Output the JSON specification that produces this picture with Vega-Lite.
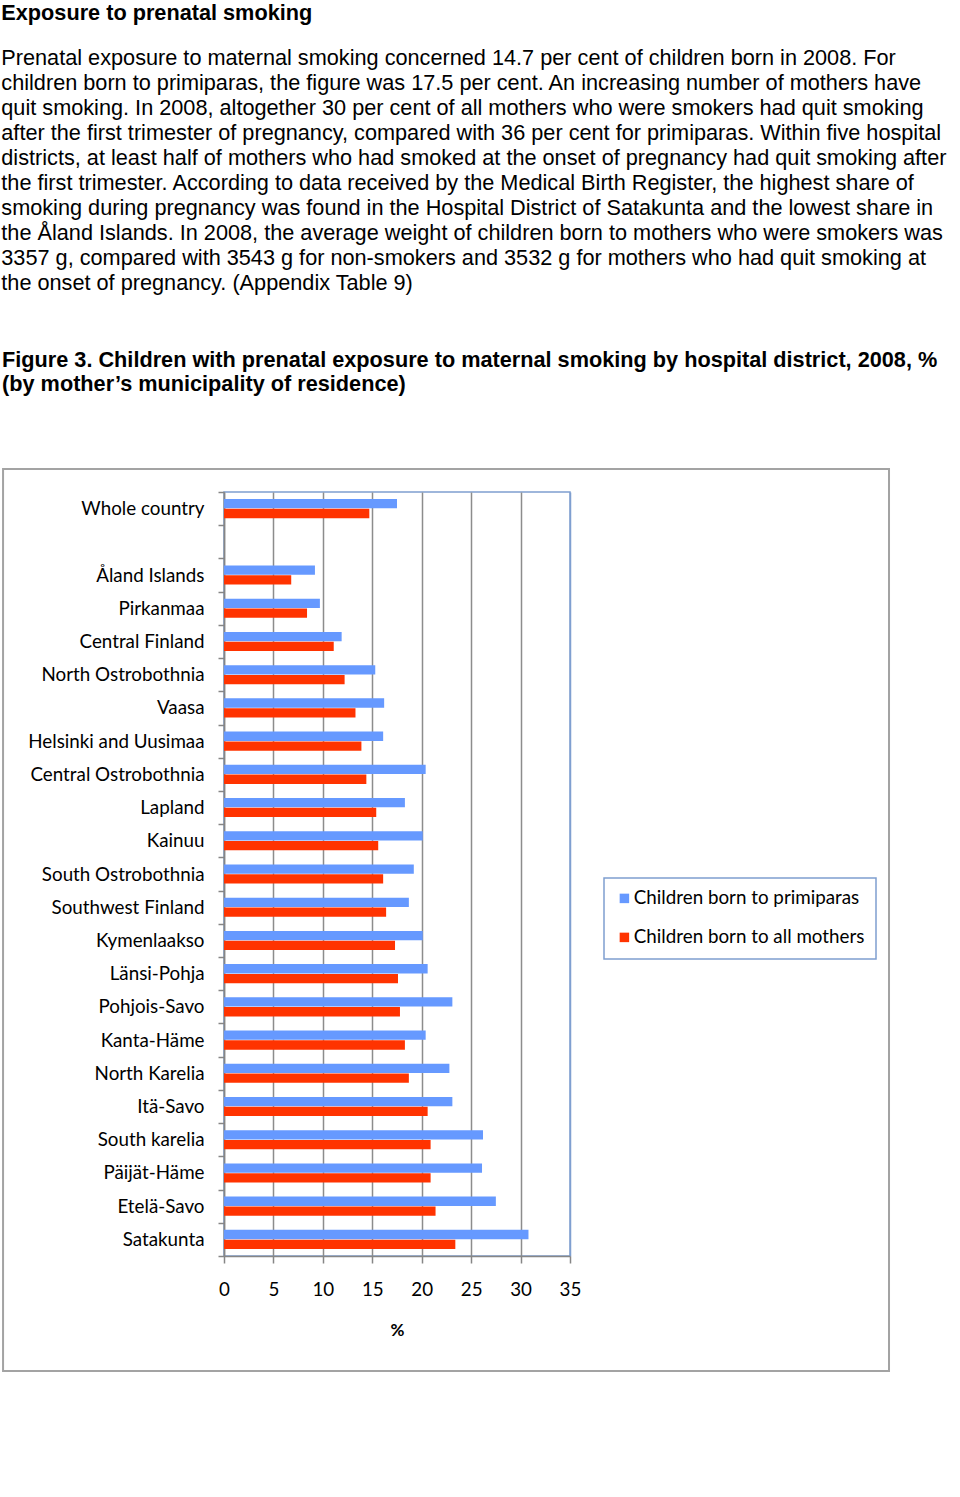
{
  "$schema": "https://vega.github.io/schema/vega-lite/v6.json",
  "padding": {"left": 1, "top": 2, "right": 0, "bottom": 0},
  "background": "white",
  "title": {
    "text": "Exposure to prenatal smoking",
    "subtitle": [
      "Prenatal exposure to maternal smoking concerned 14.7 per cent of children born in 2008. For",
      "children born to primiparas, the figure was 17.5 per cent. An increasing number of mothers have",
      "quit smoking. In 2008, altogether 30 per cent of all mothers who were smokers had quit smoking",
      "after the first trimester of pregnancy, compared with 36 per cent for primiparas. Within five hospital",
      "districts, at least half of mothers who had smoked at the onset of pregnancy had quit smoking after",
      "the first trimester. According to data received by the Medical Birth Register, the highest share of",
      "smoking during pregnancy was found in the Hospital District of Satakunta and the lowest share in",
      "the Åland Islands. In 2008, the average weight of children born to mothers who were smokers was",
      "3357 g, compared with 3543 g for non-smokers and 3532 g for mothers who had quit smoking at",
      "the onset of pregnancy. (Appendix Table 9)"
    ],
    "anchor": "start",
    "frame": "bounds",
    "font": "Liberation Sans",
    "fontSize": 21.7,
    "fontWeight": "bold",
    "color": "#000000",
    "subtitleFont": "Liberation Sans",
    "subtitleFontSize": 21.7,
    "subtitleLineHeight": 25,
    "subtitleColor": "#000000",
    "subtitlePadding": 24,
    "offset": 54
  },
  "vconcat": [
    {
      "title": {
        "text": ["Figure 3. Children with prenatal exposure to maternal smoking by hospital district, 2008, %", "(by mother’s municipality of residence)"],
        "anchor": "start",
        "frame": "bounds",
        "font": "Liberation Sans",
        "fontSize": 21.7,
        "fontWeight": "bold",
        "lineHeight": 24.5,
        "color": "#000000",
        "offset": 72
      },
      "width": 346,
      "height": 764,
      "layer": [
        {
          "data": {"values": [{"frame": "outer"}]},
          "mark": {"type": "rect", "fill": "transparent", "stroke": "#a3a3a3", "strokeWidth": 2, "clip": false},
          "encoding": {
            "x": {"datum": -22.35, "type": "quantitative", "scale": {"domain": [0, 35], "nice": false}},
            "x2": {"datum": 67.27},
            "y": {"datum": 1.0301, "type": "quantitative", "scale": {"domain": [0, 1], "nice": false, "zero": false}, "axis": null},
            "y2": {"datum": -0.1505}
          }
        },
        {
          "data": {
            "values": [
              {"region": "Whole country", "group": "Children born to primiparas", "pct": 17.5},
              {"region": "Whole country", "group": "Children born to all mothers", "pct": 14.7},
              {"region": "Åland Islands", "group": "Children born to primiparas", "pct": 9.2},
              {"region": "Åland Islands", "group": "Children born to all mothers", "pct": 6.8},
              {"region": "Pirkanmaa", "group": "Children born to primiparas", "pct": 9.7},
              {"region": "Pirkanmaa", "group": "Children born to all mothers", "pct": 8.4},
              {"region": "Central Finland", "group": "Children born to primiparas", "pct": 11.9},
              {"region": "Central Finland", "group": "Children born to all mothers", "pct": 11.1},
              {"region": "North Ostrobothnia", "group": "Children born to primiparas", "pct": 15.3},
              {"region": "North Ostrobothnia", "group": "Children born to all mothers", "pct": 12.2},
              {"region": "Vaasa", "group": "Children born to primiparas", "pct": 16.2},
              {"region": "Vaasa", "group": "Children born to all mothers", "pct": 13.3},
              {"region": "Helsinki and Uusimaa", "group": "Children born to primiparas", "pct": 16.1},
              {"region": "Helsinki and Uusimaa", "group": "Children born to all mothers", "pct": 13.9},
              {"region": "Central Ostrobothnia", "group": "Children born to primiparas", "pct": 20.4},
              {"region": "Central Ostrobothnia", "group": "Children born to all mothers", "pct": 14.4},
              {"region": "Lapland", "group": "Children born to primiparas", "pct": 18.3},
              {"region": "Lapland", "group": "Children born to all mothers", "pct": 15.4},
              {"region": "Kainuu", "group": "Children born to primiparas", "pct": 20.1},
              {"region": "Kainuu", "group": "Children born to all mothers", "pct": 15.6},
              {"region": "South Ostrobothnia", "group": "Children born to primiparas", "pct": 19.2},
              {"region": "South Ostrobothnia", "group": "Children born to all mothers", "pct": 16.1},
              {"region": "Southwest Finland", "group": "Children born to primiparas", "pct": 18.7},
              {"region": "Southwest Finland", "group": "Children born to all mothers", "pct": 16.4},
              {"region": "Kymenlaakso", "group": "Children born to primiparas", "pct": 20.1},
              {"region": "Kymenlaakso", "group": "Children born to all mothers", "pct": 17.3},
              {"region": "Länsi-Pohja", "group": "Children born to primiparas", "pct": 20.6},
              {"region": "Länsi-Pohja", "group": "Children born to all mothers", "pct": 17.6},
              {"region": "Pohjois-Savo", "group": "Children born to primiparas", "pct": 23.1},
              {"region": "Pohjois-Savo", "group": "Children born to all mothers", "pct": 17.8},
              {"region": "Kanta-Häme", "group": "Children born to primiparas", "pct": 20.4},
              {"region": "Kanta-Häme", "group": "Children born to all mothers", "pct": 18.3},
              {"region": "North Karelia", "group": "Children born to primiparas", "pct": 22.8},
              {"region": "North Karelia", "group": "Children born to all mothers", "pct": 18.7},
              {"region": "Itä-Savo", "group": "Children born to primiparas", "pct": 23.1},
              {"region": "Itä-Savo", "group": "Children born to all mothers", "pct": 20.6},
              {"region": "South karelia", "group": "Children born to primiparas", "pct": 26.2},
              {"region": "South karelia", "group": "Children born to all mothers", "pct": 20.9},
              {"region": "Päijät-Häme", "group": "Children born to primiparas", "pct": 26.1},
              {"region": "Päijät-Häme", "group": "Children born to all mothers", "pct": 20.9},
              {"region": "Etelä-Savo", "group": "Children born to primiparas", "pct": 27.5},
              {"region": "Etelä-Savo", "group": "Children born to all mothers", "pct": 21.4},
              {"region": "Satakunta", "group": "Children born to primiparas", "pct": 30.8},
              {"region": "Satakunta", "group": "Children born to all mothers", "pct": 23.4}
            ]
          },
          "mark": {"type": "bar"},
          "encoding": {
            "y": {
              "field": "region",
              "type": "nominal",
              "sort": null,
              "scale": {
                "domain": ["Whole country", " ", "Åland Islands", "Pirkanmaa", "Central Finland", "North Ostrobothnia", "Vaasa", "Helsinki and Uusimaa", "Central Ostrobothnia", "Lapland", "Kainuu", "South Ostrobothnia", "Southwest Finland", "Kymenlaakso", "Länsi-Pohja", "Pohjois-Savo", "Kanta-Häme", "North Karelia", "Itä-Savo", "South karelia", "Päijät-Häme", "Etelä-Savo", "Satakunta"],
                "paddingInner": 0,
                "paddingOuter": 0
              },
              "axis": {
                "title": null,
                "tickBand": "extent",
                "domainColor": "#868686",
                "domainWidth": 1.5,
                "tickColor": "#868686",
                "tickWidth": 1.5,
                "tickSize": 6,
                "labelFont": "Lato",
                "labelFontSize": 18.8,
                "labelColor": "#000000",
                "labelPadding": 14,
                "grid": false
              }
            },
            "x": {
              "field": "pct",
              "type": "quantitative",
              "scale": {"domain": [0, 35], "nice": false},
              "axis": {
                "title": "%",
                "titleFont": "Lato",
                "titleFontSize": 17,
                "titleFontWeight": "bold",
                "titleColor": "#000000",
                "titlePadding": 24,
                "values": [0, 5, 10, 15, 20, 25, 30, 35],
                "labelFlush": false,
                "domainColor": "#868686",
                "domainWidth": 1.5,
                "tickColor": "#868686",
                "tickWidth": 1.5,
                "tickSize": 7,
                "labelFont": "Lato",
                "labelFontSize": 18.8,
                "labelColor": "#000000",
                "labelPadding": 17,
                "grid": true,
                "gridColor": {"condition": {"test": "datum.value === 35", "value": "#7f9fd0"}, "value": "#8c8c8c"},
                "gridWidth": 1.5
              }
            },
            "yOffset": {
              "field": "group",
              "type": "nominal",
              "sort": null,
              "scale": {"domain": ["Children born to primiparas", "Children born to all mothers"], "paddingInner": 0.05, "paddingOuter": 0.72}
            },
            "color": {
              "field": "group",
              "type": "nominal",
              "sort": null,
              "scale": {"domain": ["Children born to primiparas", "Children born to all mothers"], "range": ["#6699ff", "#ff3300"]},
              "legend": {
                "title": null,
                "orient": "none",
                "legendX": 380,
                "legendY": 386,
                "strokeColor": "#7f9fd0",
                "padding": 11,
                "symbolType": "square",
                "symbolSize": 90,
                "symbolStrokeWidth": 0,
                "labelFont": "Lato",
                "labelFontSize": 18.8,
                "labelColor": "#000000",
                "labelLimit": 400,
                "rowPadding": 19,
                "labelOffset": 0
              }
            }
          }
        }
      ],
      "resolve": {"scale": {"y": "independent"}, "axis": {"y": "independent"}}
    }
  ],
  "config": {
    "view": {"stroke": "#7f9fd0", "strokeWidth": 1.5},
    "legend": {"strokeWidth": 1.5}
  }
}
